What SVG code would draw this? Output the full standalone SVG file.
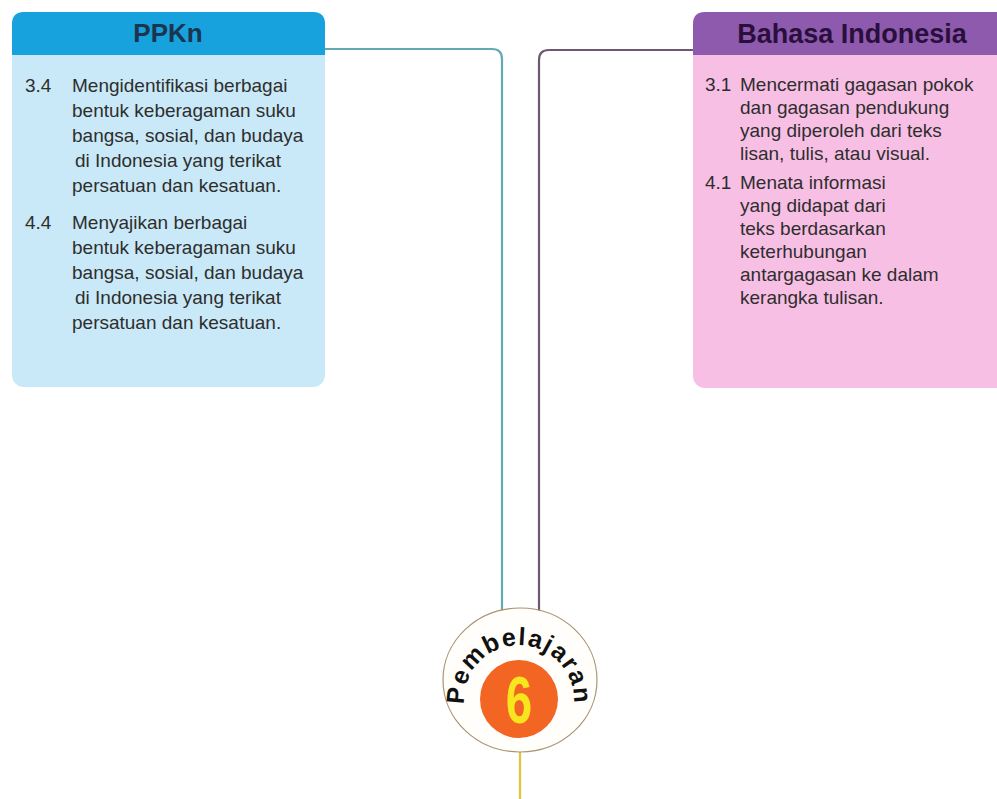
<svg xmlns="http://www.w3.org/2000/svg" width="997" height="799" viewBox="0 0 997 799">
<defs>
<style>
.body{font-family:"Liberation Sans",Arial,sans-serif;font-size:19px;fill:#2e2e2e}
.title{font-family:"Liberation Sans",Arial,sans-serif;font-weight:bold;text-anchor:middle}
.conn{fill:none;stroke-width:2.2}
</style>
<path id="arc" d="M465.8,714.2 A55,55 0 1 1 572.2,714.2"/>
</defs>
<rect width="997" height="799" fill="#ffffff"/>
<g id="connectors">
<path class="conn" stroke="#62aab3" d="M325,49 H492 Q502,49 502,59 V612"/>
<path class="conn" stroke="#6f5672" d="M693,50 H549 Q539,50 539,60 V612"/>
<path class="conn" stroke="#e0c43a" d="M520,750 V799"/>
</g>
<g id="ppkn">
<rect x="12" y="12" width="313" height="375" rx="12" fill="#c9e9f8"/>
<path d="M12,55 V24 Q12,12 24,12 H313 Q325,12 325,24 V55 Z" fill="#17a2de"/>
<text class="title" x="168" y="42" font-size="26" fill="#1b3550">PPKn</text>
<text class="body" x="25" y="92">3.4</text>
<text class="body" x="72" y="92">Mengidentifikasi berbagai</text>
<text class="body" x="72" y="117">bentuk keberagaman suku</text>
<text class="body" x="72" y="142">bangsa, sosial, dan budaya</text>
<text class="body" x="75" y="167">di Indonesia yang terikat</text>
<text class="body" x="72" y="192">persatuan dan kesatuan.</text>
<text class="body" x="25" y="229">4.4</text>
<text class="body" x="72" y="229">Menyajikan berbagai</text>
<text class="body" x="72" y="254">bentuk keberagaman suku</text>
<text class="body" x="72" y="279">bangsa, sosial, dan budaya</text>
<text class="body" x="75" y="304">di Indonesia yang terikat</text>
<text class="body" x="72" y="329">persatuan dan kesatuan.</text>
</g>
<g id="bahasa-indonesia">
<rect x="693" y="12" width="320" height="376" rx="12" fill="#f8bfe5"/>
<path d="M693,55 V24 Q693,12 705,12 H1013 V55 Z" fill="#8d5aad"/>
<text class="title" x="852" y="43" font-size="27" fill="#2a0f3c">Bahasa Indonesia</text>
<text class="body" x="705" y="91">3.1</text>
<text class="body" x="740" y="91">Mencermati gagasan pokok</text>
<text class="body" x="740" y="114">dan gagasan pendukung</text>
<text class="body" x="740" y="137">yang diperoleh dari teks</text>
<text class="body" x="740" y="160">lisan, tulis, atau visual.</text>
<text class="body" x="705" y="189">4.1</text>
<text class="body" x="740" y="189">Menata informasi</text>
<text class="body" x="740" y="212">yang didapat dari</text>
<text class="body" x="740" y="235">teks berdasarkan</text>
<text class="body" x="740" y="258">keterhubungan</text>
<text class="body" x="740" y="281">antargagasan ke dalam</text>
<text class="body" x="740" y="304">kerangka tulisan.</text>
</g>
<g id="pembelajaran-6">
<ellipse cx="520" cy="680" rx="77" ry="72" fill="#fffefa" stroke="#a89470" stroke-width="1.2"/>
<circle cx="519" cy="699" r="39" fill="#f26522"/>
<text x="0" y="0" transform="translate(519,723) scale(0.72,1)" font-family="Liberation Sans,Arial,sans-serif" font-weight="bold" font-size="66" fill="#f7e61e" text-anchor="middle">6</text>
<text font-family="Liberation Sans,Arial,sans-serif" font-weight="bold" font-size="25" fill="#111" letter-spacing="1.5"><textPath href="#arc" startOffset="50%" text-anchor="middle">Pembelajaran</textPath></text>
</g>
</svg>
